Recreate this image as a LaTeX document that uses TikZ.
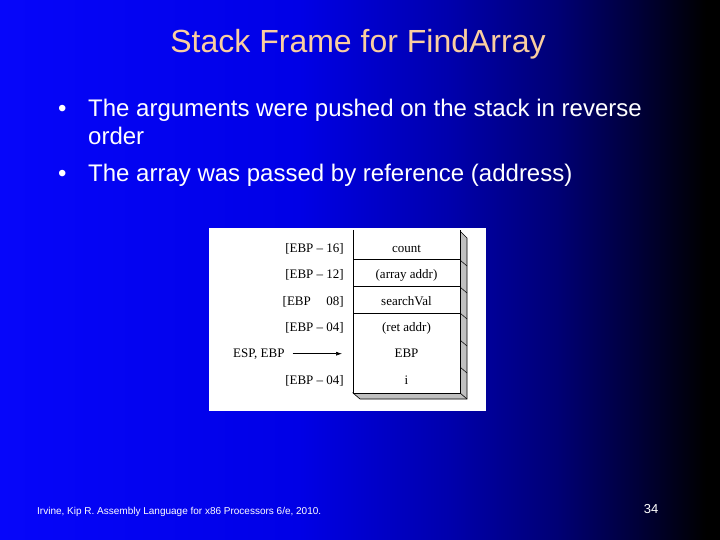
\documentclass[tikz,border=0pt]{standalone}
\usepackage{fontspec}
\setmainfont{Liberation Sans}
\newfontfamily\stackfont{Liberation Serif}
\usetikzlibrary{arrows.meta}
\definecolor{titlepeach}{RGB}{250,206,160}
\definecolor{bgA}{RGB}{6,6,250}
\definecolor{bgB}{RGB}{0,0,230}
\definecolor{bgC}{RGB}{0,0,172}
\definecolor{bgD}{RGB}{0,0,115}
\definecolor{bgE}{RGB}{0,0,55}
\definecolor{shadowgray}{RGB}{192,192,192}
\def\stackoutline{(353,230) -- (353,393) -- (460,393) -- (460,230)}
\def\stackshadow{(460,231) -- (467,238) -- (467,399) -- (360,399) -- (353,393) -- (460,393) -- cycle}

\begin{document}
\begin{tikzpicture}[x=1pt,y=-1pt,
  lbl/.style={font=\stackfont\fontsize{13}{15}\selectfont, inner sep=0pt, anchor=base},
  bul/.style={text=white, font=\fontsize{24}{28}\selectfont, inner sep=0pt, anchor=base west}]
\useasboundingbox (0,0) rectangle (720,540);

%background, blue fading to black
\fill[left color=bgA, right color=bgB] (0,0) rectangle (300,540);
\fill[left color=bgB, right color=bgC] (299.5,0) rectangle (450,540);
\fill[left color=bgC, right color=bgD] (449.5,0) rectangle (560,540);
\fill[left color=bgD, right color=bgE] (559.5,0) rectangle (640,540);
\fill[left color=bgE, right color=black] (639.5,0) rectangle (706,540);
\fill[black] (705.5,0) rectangle (720,540);

%title and bullets
\node[text=titlepeach, font=\fontsize{32}{36}\selectfont, inner sep=0pt, anchor=base] (title) at (358,53) {Stack Frame for FindArray};
\node[bul] (dot1) at (58,117) {•};
\node[bul] (line1) at (88,117) {The arguments were pushed on the stack in reverse};
\node[bul] (line2) at (88,145) {order};
\node[bul] (dot2) at (58,182) {•};
\node[bul] (line3) at (88,182) {The array was passed by reference (address)};

%the figure
\fill[white] (209,228) rectangle (486,411);
\filldraw[fill=shadowgray, draw=black, line width=0.6pt] \stackshadow;
\draw[line width=0.6pt] (460,393) -- (467,399);
\foreach \ty in {260,287,313,340,367}
  \draw[line width=0.5pt] (460,\ty) -- (467,\ty+6);
\fill[white] (353,230) rectangle (460,393);
\draw[line width=0.8pt] \stackoutline;
\draw[line width=0.8pt] (353,259) -- (460,259);
\draw[line width=0.8pt] (353,286) -- (460,286);
\draw[line width=0.8pt] (353,313) -- (460,313);

\node[lbl] (cCount) at (406.5,252) {count};
\node[lbl] (cArray) at (406.5,278) {(array addr)};
\node[lbl] (cSearch) at (406.5,305) {searchVal};
\node[lbl] (cRet) at (406.5,331) {(ret addr)};
\node[lbl] (cEBP) at (406.5,357) {EBP};
\node[lbl] (cI) at (406.5,384) {i};

\node[lbl, anchor=base east] (l16) at (344,252) {[EBP – 16]};
\node[lbl, anchor=base east] (l12) at (344,278) {[EBP – 12]};
\node[lbl, anchor=base east] (l08) at (344,305) {[EBP\hspace{1.2em}08]};
\node[lbl, anchor=base east] (l04) at (344,331) {[EBP – 04]};
\node[lbl, anchor=base west] (espebp) at (233,357) {ESP, EBP};
\node[lbl, anchor=base east] (lI) at (344,384) {[EBP – 04]};

\coordinate (ebpslot) at (353,353);
\draw[-{Latex[length=6pt,width=4pt]}, line width=0.6pt, shorten <=8pt, shorten >=11pt] (espebp.east) -- (espebp.east -| ebpslot);

%footer
\node[text=white, font=\fontsize{10}{12}\selectfont, inner sep=0pt, anchor=base west] (cite) at (37,514) {Irvine, Kip R. Assembly Language for x86 Processors 6/e, 2010.};
\node[text=white, font=\fontsize{13}{15}\selectfont, inner sep=0pt, anchor=base] (pageno) at (651,513) {34};
\end{tikzpicture}
\end{document}
